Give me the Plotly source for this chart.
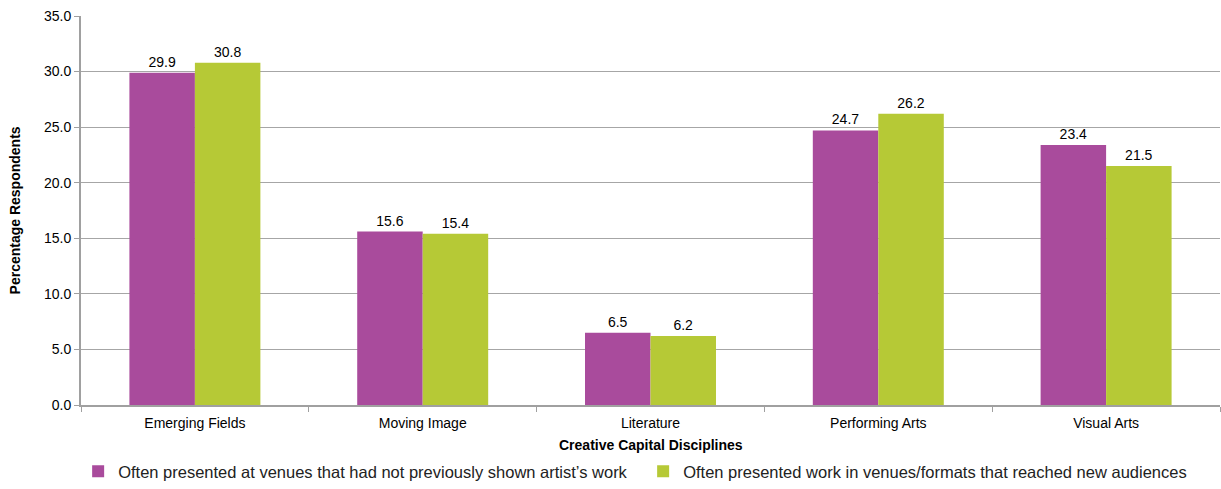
import plotly.graph_objects as go

categories = ["Emerging Fields", "Moving Image", "Literature", "Performing Arts", "Visual Arts"]
venues_not_shown = [29.9, 15.6, 6.5, 24.7, 23.4]
new_audiences = [30.8, 15.4, 6.2, 26.2, 21.5]
series_names = [
    "Often presented at venues that had not previously shown artist\u2019s work",
    "Often presented work in venues/formats that reached new audiences",
]
y_ticks = [0, 5, 10, 15, 20, 25, 30, 35]

font_family = "Liberation Sans, Arial, sans-serif"

fig = go.Figure()
for name, vals, color in [
    (series_names[0], venues_not_shown, "#a94b9c"),
    (series_names[1], new_audiences, "#b6c936"),
]:
    fig.add_trace(go.Bar(
        x=categories, y=vals, name=name,
        marker=dict(color=color, line=dict(width=0)),
        text=[f"{v:.1f}" for v in vals], textposition="outside",
        textfont=dict(size=14, color="#000000", family=font_family),
        cliponaxis=False,
    ))

# Axis titles placed as annotations so their position is fixed
fig.add_annotation(text="<b>Creative Capital Disciplines</b>", xref="paper", yref="paper",
                   x=0.5, y=-0.104, xanchor="center", yanchor="middle",
                   showarrow=False, font=dict(size=14))
fig.add_annotation(text="<b>Percentage Respondents</b>", xref="paper", yref="paper",
                   x=-0.058, y=0.5, xanchor="center", yanchor="middle", textangle=-90,
                   showarrow=False, font=dict(size=14))

fig.update_layout(
    width=1221, height=489,
    margin=dict(l=81, r=1, t=16, b=84, autoexpand=False),
    plot_bgcolor="white", paper_bgcolor="white",
    barmode="group", bargap=0.425, bargroupgap=0,
    font=dict(family=font_family, color="#000000", size=14),
    showlegend=True,
    legend=dict(orientation="h", xref="container", yref="container",
                x=0.064, y=0.0, xanchor="left", yanchor="bottom",
                font=dict(size=16.5, color="#222222"), itemwidth=30,
                traceorder="normal", entrywidth=520,
                tracegroupgap=0),
    xaxis=dict(
        showline=True, linecolor="#a0a0a0", linewidth=2,
        ticks="outside", tickson="boundaries", ticklen=5, tickcolor="#a0a0a0",
        tickfont=dict(size=14), ticklabelstandoff=4,
    ),
    yaxis=dict(
        range=[0, 35], tickvals=y_ticks, tickformat=".1f",
        showline=True, linecolor="#a0a0a0", linewidth=2,
        gridcolor="#a6a6a6", gridwidth=1,
        ticks="outside", ticklen=5, tickcolor="#a0a0a0",
        tickfont=dict(size=14),
        zeroline=False,
    ),
)

fig.write_html("out.html")
